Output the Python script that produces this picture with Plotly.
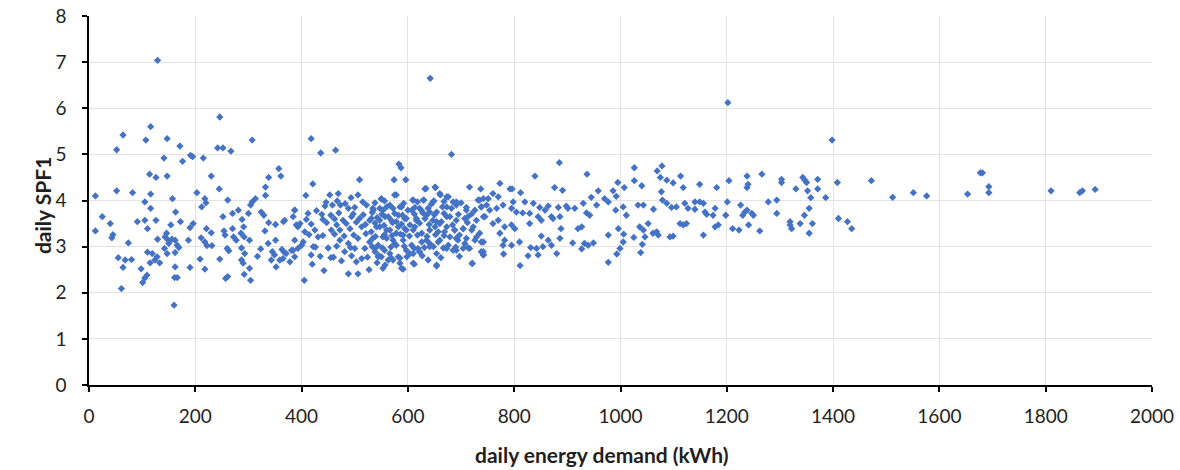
import plotly.graph_objects as go

# ---- data (daily energy demand in kWh, daily SPF1) ----
demand_low = [129, 12, 12, 25, 40, 45, 43, 52, 64, 52,
              55, 64, 61, 68, 74, 80, 82, 91, 98, 105,
              105, 110, 107, 116, 114, 126, 116, 116, 126, 129,
              110, 119, 115, 124, 133, 128, 109, 105, 101, 141,
              147, 147, 146, 143, 149, 142, 147, 150, 156, 162,
              154, 157, 163, 162, 166, 169, 162, 161, 166, 160,
              171, 176, 172, 187, 190, 196, 191, 195, 203, 190,
              209, 212, 218, 220, 215, 221, 211, 218, 222, 230,
              231, 218, 230, 246, 242, 252, 267, 245, 261, 252,
              254, 256, 260, 263, 246, 257, 261, 270, 272, 277,
              270, 281, 288, 291, 286, 292, 287, 293, 287, 290,
              292, 302, 304, 300, 304, 307, 313, 307, 302, 317,
              323, 324, 329, 331, 332, 332, 338, 338, 337, 345,
              351, 351, 357, 361, 366, 368, 363, 367, 384, 387,
              390, 343, 352, 359, 371, 378, 387, 393, 349, 365]
spf_low = [7.04, 4.10, 3.34, 3.65, 3.50, 3.26, 3.19, 5.10, 5.42, 4.21,
           2.76, 2.55, 2.09, 2.71, 3.08, 2.72, 4.17, 3.54, 2.52, 3.97,
           3.57, 3.39, 5.31, 5.60, 4.57, 4.50, 4.14, 3.83, 3.57, 3.16,
           2.88, 2.85, 2.65, 2.71, 2.65, 2.78, 2.38, 2.32, 2.22, 4.92,
           5.34, 4.53, 3.29, 3.21, 3.14, 2.96, 2.85, 3.07, 3.16, 3.14,
           3.47, 4.04, 3.75, 2.87, 3.03, 2.98, 2.56, 2.33, 2.33, 1.73,
           5.18, 4.85, 3.54, 3.14, 3.41, 3.50, 4.98, 4.95, 4.17, 2.55,
           2.73, 3.86, 4.04, 3.95, 4.92, 3.39, 3.19, 3.10, 3.02, 3.30,
           3.02, 2.51, 4.53, 5.81, 5.14, 5.14, 5.07, 4.25, 4.01, 3.65,
           3.34, 3.25, 2.96, 2.91, 2.73, 2.31, 2.35, 3.39, 3.21, 3.14,
           3.72, 3.79, 3.59, 3.43, 3.29, 3.21, 2.97, 2.85, 2.71, 2.64,
           2.40, 2.53, 2.27, 3.72, 3.90, 3.97, 4.04, 5.31, 3.14, 2.79,
           2.95, 3.75, 3.68, 3.34, 4.11, 4.29, 4.50, 3.52, 3.07, 2.89,
           3.14, 3.48, 4.69, 4.53, 3.54, 3.57, 2.94, 2.88, 2.92, 3.79,
           3.47, 2.71, 2.56, 2.71, 2.85, 2.67, 2.78, 2.96, 2.82, 2.74]

demand_outer = [418, 436, 464, 682, 583, 587, 421, 509, 574, 596,
                408, 632, 651, 716, 737, 405, 442, 654, 721, 488,
                506, 527, 591, 612, 420, 460, 475, 642, 1202]
spf_outer = [5.34, 5.03, 5.09, 5.00, 4.79, 4.71, 4.36, 4.45, 4.45, 4.45,
             4.11, 4.25, 4.29, 4.29, 4.25, 2.27, 2.48, 2.58, 2.63, 2.41,
             2.41, 2.50, 2.51, 2.62, 2.62, 2.77, 2.69, 6.65, 6.12]

demand_mid = [453, 469, 493, 506, 550, 578, 609, 630, 649, 660, 673, 685, 732, 742,
              387, 412, 428, 444, 458, 473, 488, 500, 522, 535, 547, 560, 572, 588,
              600, 613, 626, 638, 654, 673, 691, 710, 726, 738, 748,
              384, 397, 409, 440, 462, 478, 494, 509, 528, 542, 557, 569, 582, 597,
              616, 632, 647, 663, 679, 691, 707, 729, 745,
              393, 406, 425, 456, 472, 491, 513, 531, 547, 566, 578, 594, 610, 626,
              641, 657, 673, 688, 704, 720, 735,
              387, 403, 431, 472, 488, 506, 528, 544, 560, 575, 591, 607, 626, 641,
              660, 676, 691, 707, 726, 738,
              381, 400, 422, 418, 481, 500, 513, 538, 550, 566, 582, 604, 622, 654,
              685, 704, 738, 742,
              503, 542, 557, 572, 585, 638]
spf_mid = [4.12, 4.15, 4.06, 4.12, 4.03, 4.12, 4.01, 4.01, 3.99, 4.15, 4.08, 3.97, 4.01, 4.04,
           3.79, 3.72, 3.78, 3.88, 3.90, 3.90, 3.83, 3.85, 3.90, 3.79, 3.83, 3.86, 3.83, 3.86,
           3.79, 3.85, 3.78, 3.83, 3.75, 3.86, 3.90, 3.85, 3.79, 3.86, 3.90,
           3.65, 3.50, 3.59, 3.59, 3.60, 3.57, 3.65, 3.61, 3.57, 3.63, 3.65, 3.57, 3.68, 3.61,
           3.57, 3.61, 3.57, 3.54, 3.65, 3.57, 3.61, 3.57, 3.65,
           3.43, 3.32, 3.36, 3.36, 3.36, 3.39, 3.43, 3.32, 3.43, 3.36, 3.29, 3.39, 3.36, 3.29,
           3.36, 3.32, 3.43, 3.36, 3.39, 3.36, 3.29,
           3.14, 3.10, 3.21, 3.14, 3.07, 3.18, 3.10, 3.03, 3.18, 3.07, 3.14, 3.03, 3.10, 3.07,
           3.14, 3.03, 3.18, 3.07, 3.14, 3.10,
           2.92, 3.03, 3.00, 2.82, 2.89, 2.96, 2.74, 2.89, 2.78, 2.85, 2.78, 2.85, 2.89, 2.85,
           2.92, 2.96, 2.89, 2.82,
           2.67, 2.65, 2.60, 2.71, 2.64, 2.71]

demand_core = [634, 652,
               550, 575, 610, 629, 647, 661, 676, 691, 735, 751,
               534, 553, 566, 585, 607, 622, 641, 665, 682, 710, 738, 754,
               531, 547, 563, 578, 594, 616, 635, 654, 673, 713, 742,
               541, 560, 582, 597, 613, 651, 669, 688, 704, 723,
               534, 553, 572, 591, 635, 657, 679, 694, 710, 729, 742,
               538, 556, 578, 597, 619, 641, 673, 691, 716, 742,
               544, 563, 585, 610, 622, 742,
               553, 588, 610, 654, 721]
spf_core = [4.26, 4.28,
            4.04, 4.12, 4.01, 4.01, 3.97, 4.12, 4.08, 3.97, 4.01, 4.04,
            3.83, 3.79, 3.90, 3.86, 3.79, 3.83, 3.75, 3.86, 3.83, 3.79, 3.86, 3.79,
            3.61, 3.57, 3.65, 3.54, 3.61, 3.61, 3.68, 3.54, 3.65, 3.65, 3.65,
            3.43, 3.36, 3.43, 3.36, 3.43, 3.43, 3.32, 3.36, 3.39, 3.43,
            3.18, 3.21, 3.14, 3.25, 3.14, 3.10, 3.21, 3.14, 3.18, 3.21, 3.10,
            2.96, 2.92, 3.03, 2.92, 2.96, 3.00, 2.96, 2.92, 2.96, 2.89,
            2.78, 2.71, 2.75, 2.85, 2.89, 2.82,
            2.53, 2.53, 2.64, 2.60, 2.64]

demand_dense = [446, 467, 482, 515, 538, 556, 592, 618, 644, 668, 700,
                438, 455, 470, 497, 516, 533, 551, 575, 590, 612, 628, 650, 668, 695, 720,
                418, 447, 466, 484, 503, 520, 538, 555, 571, 588, 604, 622, 640, 660, 684, 712,
                414, 440, 462, 480, 498, 521, 539, 556, 570, 586, 603, 618, 636, 652, 668, 697,
                426, 450, 466, 492, 519, 533, 552, 568, 593, 612, 631, 648, 667, 690, 713,
                435, 455, 494, 524, 545, 569, 598, 627, 662, 697]
spf_dense = [3.96, 3.99, 3.93, 3.97, 3.95, 3.99, 3.94, 3.97, 3.92, 3.98, 3.95,
             3.70, 3.68, 3.73, 3.71, 3.69, 3.74, 3.70, 3.72, 3.68, 3.71, 3.73, 3.69, 3.72, 3.70, 3.71,
             3.49, 3.52, 3.47, 3.50, 3.53, 3.48, 3.51, 3.46, 3.52, 3.49, 3.47, 3.51, 3.48, 3.50, 3.47, 3.52,
             3.26, 3.24, 3.27, 3.23, 3.25, 3.28, 3.22, 3.26, 3.24, 3.27, 3.23, 3.25, 3.22, 3.26, 3.24, 3.25,
             2.99, 2.97, 3.01, 2.98, 2.96, 3.00, 2.97, 2.99, 3.01, 2.96, 2.98, 3.00, 2.97, 2.99, 2.98,
             2.79, 2.76, 2.80, 2.77, 2.81, 2.75, 2.78, 2.80, 2.76, 2.79]

demand_high = [885, 839, 937, 1026, 1078, 1069, 1075, 1087, 1099, 1026,
               1040, 995, 1007, 986, 958, 876, 891, 792, 796, 773,
               812, 760, 770, 798, 820, 836, 848, 864, 883, 898,
               914, 930, 945, 955, 970, 977, 992, 991, 1005, 1011,
               1033, 1043, 1062, 1077, 1079, 1087, 1096, 1105, 767, 779,
               795, 804, 816, 829, 845, 858, 870, 886, 901, 936,
               942, 760, 770, 782, 795, 801, 829, 851, 873, 888,
               920, 927, 996, 1036, 1043, 1052, 1061, 1071, 1068, 1093,
               1099, 1112, 977, 1006, 1025, 1046, 773, 782, 779, 795,
               810, 851, 864, 870, 886, 910, 932, 949, 1005, 1041,
               831, 842, 854, 880, 927, 939, 999, 780, 826, 845,
               993, 1038, 811, 977]
spf_high = [4.82, 4.53, 4.57, 4.71, 4.75, 4.64, 4.50, 4.44, 4.38, 4.43,
            4.32, 4.39, 4.28, 4.21, 4.21, 4.28, 4.22, 4.25, 4.25, 4.37,
            4.17, 4.15, 4.08, 3.97, 3.97, 3.94, 3.85, 3.88, 3.85, 3.88,
            3.83, 3.94, 4.07, 3.90, 4.04, 3.97, 4.09, 3.79, 3.86, 3.68,
            3.90, 3.90, 3.81, 4.19, 4.01, 3.94, 3.85, 3.86, 3.83, 3.90,
            3.83, 3.75, 3.73, 3.72, 3.65, 3.79, 3.65, 3.65, 3.83, 3.73,
            3.68, 3.50, 3.57, 3.43, 3.47, 3.39, 3.50, 3.57, 3.61, 3.39,
            3.39, 3.43, 3.39, 3.43, 3.36, 3.50, 3.29, 3.25, 3.32, 3.21,
            3.23, 3.50, 3.25, 3.27, 3.20, 3.21, 3.29, 3.14, 3.03, 3.03,
            3.10, 3.23, 3.14, 3.03, 3.18, 3.08, 3.07, 3.08, 3.10, 3.05,
            2.98, 2.96, 3.00, 2.85, 2.95, 3.03, 2.96, 2.84, 2.80, 2.82,
            2.84, 2.87, 2.59, 2.66]

demand_top = [1398, 1113, 1118, 1149, 1181, 1204, 1238, 1240, 1238, 1266,
              1303, 1303, 1343, 1347, 1350, 1371, 1371, 1352, 1330, 1358,
              1386, 1408, 1472, 1121, 1127, 1140, 1140, 1149, 1156, 1159,
              1162, 1174, 1178, 1201, 1198, 1226, 1230, 1234, 1238, 1247,
              1250, 1241, 1278, 1294, 1294, 1319, 1319, 1322, 1338, 1346,
              1355, 1361, 1355, 1410, 1427, 1435, 1118, 1124, 1156, 1178,
              1184, 1211, 1223, 1262,
              1512, 1551, 1576, 1653, 1677, 1681, 1693, 1693, 1810, 1864,
              1869, 1893]
spf_top = [5.31, 4.53, 4.28, 4.35, 4.28, 4.43, 4.53, 4.35, 4.28, 4.57,
           4.46, 4.39, 4.50, 4.44, 4.39, 4.46, 4.25, 4.21, 4.25, 4.06,
           4.06, 4.39, 4.43, 3.94, 3.83, 3.81, 3.97, 3.97, 3.94, 3.75,
           3.70, 3.68, 3.83, 3.97, 3.68, 3.90, 3.68, 3.75, 3.79, 3.72,
           3.68, 3.47, 3.97, 4.01, 3.72, 3.54, 3.47, 3.39, 3.50, 3.68,
           3.83, 3.50, 3.29, 3.61, 3.54, 3.39, 3.47, 3.50, 3.25, 3.43,
           3.47, 3.39, 3.36, 3.34,
           4.07, 4.17, 4.10, 4.14, 4.60, 4.60, 4.30, 4.17, 4.21, 4.17,
           4.21, 4.24]

x_ticks = [0, 200, 400, 600, 800, 1000, 1200, 1400, 1600, 1800, 2000]
y_ticks = [0, 1, 2, 3, 4, 5, 6, 7, 8]
x_title = "daily energy demand (kWh)"
y_title = "daily SPF1"

x_all = (demand_low + demand_outer + demand_mid + demand_core + demand_dense
         + demand_high + demand_top)
y_all = (spf_low + spf_outer + spf_mid + spf_core + spf_dense
         + spf_high + spf_top)

FONT = "Lato"
TEXT_COLOR = "#1f1f1f"
AXIS_COLOR = "#000000"
GRID_COLOR = "#E3E3E3"

fig = go.Figure(
    go.Scatter(
        x=x_all, y=y_all, mode="markers",
        marker=dict(symbol="diamond", size=5.6, color="#4472C4", line=dict(width=0)),
        hoverinfo="x+y",
    )
)

fig.update_layout(
    width=1180, height=470,
    margin=dict(l=89, r=28, t=16, b=85, autoexpand=False),
    paper_bgcolor="white", plot_bgcolor="white",
    showlegend=False,
    font=dict(family=FONT, size=19, color=TEXT_COLOR),
    annotations=[
        dict(text="<b>" + x_title + "</b>", xref="paper", yref="paper",
             x=0.4817, y=-0.188, xanchor="center", yanchor="middle",
             showarrow=False, font=dict(family=FONT, size=21, color=TEXT_COLOR)),
        dict(text="<b>" + y_title + "</b>", xref="paper", yref="paper",
             x=-0.0442, y=0.485, xanchor="center", yanchor="middle",
             textangle=-90, showarrow=False,
             font=dict(family=FONT, size=21, color=TEXT_COLOR)),
    ],
)

fig.update_xaxes(
    range=[0, 2000], tickvals=x_ticks, ticktext=[str(v) for v in x_ticks],
    showgrid=True, gridcolor=GRID_COLOR, gridwidth=1,
    showline=True, linecolor=AXIS_COLOR, linewidth=1.5,
    ticks="outside", ticklen=5, tickcolor=AXIS_COLOR, tickwidth=1.5,
    ticklabelstandoff=8,
    zeroline=False, automargin=False,
    tickfont=dict(family=FONT, size=19, color=TEXT_COLOR),
)
fig.update_yaxes(
    range=[0, 8], tickvals=y_ticks, ticktext=[str(v) for v in y_ticks],
    showgrid=True, gridcolor=GRID_COLOR, gridwidth=1,
    showline=True, linecolor=AXIS_COLOR, linewidth=1.5,
    ticks="outside", ticklen=5, tickcolor=AXIS_COLOR, tickwidth=1.5,
    ticklabelstandoff=12,
    zeroline=False, automargin=False,
    tickfont=dict(family=FONT, size=19, color=TEXT_COLOR),
)

fig.write_html("out.html", config={"displayModeBar": False},
               post_script="document.body.style.margin='0';")
